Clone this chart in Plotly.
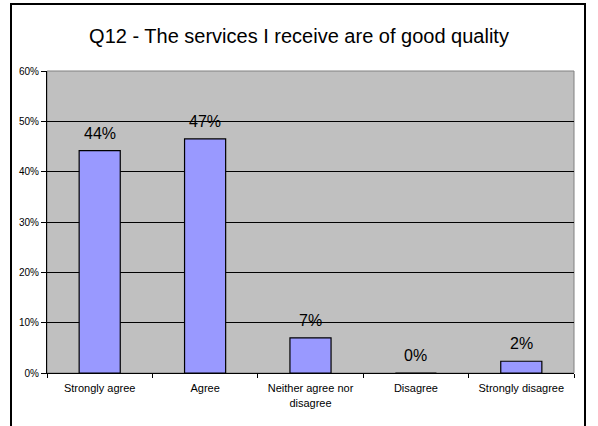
import plotly.graph_objects as go

# Survey responses for Q12 (share of respondents)
categories = ["Strongly agree", "Agree", "Neither agree nor<br>disagree", "Disagree", "Strongly disagree"]
shares = [0.4419, 0.4651, 0.0698, 0.0, 0.0233]
y_ticks = [0, 0.1, 0.2, 0.3, 0.4, 0.5, 0.6]
y_tick_labels = ["0%", "10%", "20%", "30%", "40%", "50%", "60%"]

W, H = 598, 426
ML, MR, MT, MB = 47, 24, 71, 53
PW, PH = W - ML - MR, H - MT - MB

def px_x(x):
    return (x - ML) / PW

def px_y(y):
    return (H - MB - y) / PH

FONT = "Liberation Sans, Arial, sans-serif"

fig = go.Figure()
fig.add_trace(go.Bar(
    x=categories,
    y=shares,
    marker=dict(color="#9999FF", line=dict(color="#000000", width=1.2)),
    hoverinfo="skip",
))

# value labels above each bar
for c, v in zip(categories, shares):
    fig.add_annotation(
        x=c, y=v, xref="x", yref="y",
        text=f"{round(v * 100):.0f}%",
        showarrow=False, yanchor="bottom", yshift=7,
        font=dict(family=FONT, size=16, color="#000000"),
    )

# outer chart frame (left, top, right edges)
fig.add_shape(
    type="path", xref="paper", yref="paper",
    path=(f"M {px_x(11)} {px_y(440)} L {px_x(11)} {px_y(4)} "
          f"L {px_x(585)} {px_y(4)} L {px_x(585)} {px_y(440)}"),
    line=dict(color="#000000", width=2), layer="above",
)
# plot-area border
fig.add_shape(
    type="rect", xref="paper", yref="paper", x0=0, x1=1, y0=0, y1=1,
    line=dict(color="#808080", width=1), layer="below",
)

fig.update_layout(
    width=W, height=H,
    margin=dict(l=ML, r=MR, t=MT, b=MB, pad=0),
    paper_bgcolor="#FFFFFF",
    plot_bgcolor="#C0C0C0",
    showlegend=False,
    bargap=0.61,
    font=dict(family=FONT, color="#000000"),
    title=dict(
        text="Q12 - The services I receive are of good quality",
        x=0.5, xref="container", xanchor="center",
        y=1 - 36 / H, yref="container", yanchor="middle",
        font=dict(family=FONT, size=20, color="#000000"),
    ),
)
fig.update_xaxes(
    showgrid=False,
    showline=True, linecolor="#000000", linewidth=1,
    ticks="outside", ticklen=4, tickcolor="#000000", tickson="boundaries",
    tickfont=dict(family=FONT, size=11),
    ticklabelstandoff=5,
)
fig.update_yaxes(
    range=[0, 0.6],
    tickvals=y_ticks, ticktext=y_tick_labels,
    showgrid=True, gridcolor="#000000", gridwidth=1,
    showline=True, linecolor="#000000", linewidth=1,
    ticks="outside", ticklen=5, tickcolor="#000000",
    tickfont=dict(family=FONT, size=10),
    zeroline=False,
)

fig.write_html("out.html")
